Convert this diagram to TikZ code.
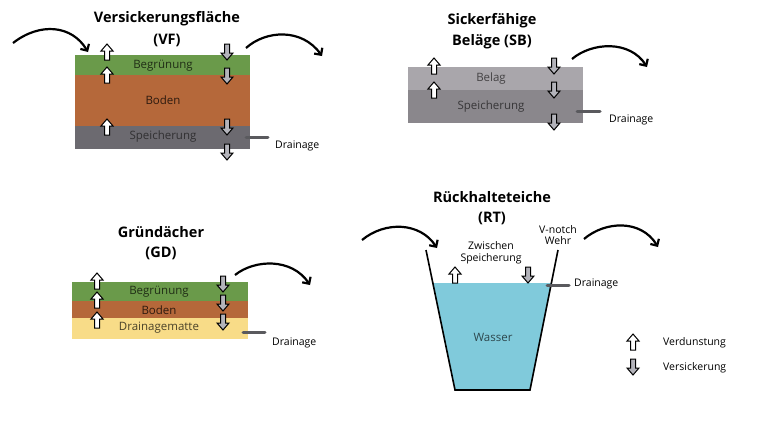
\documentclass[tikz,border=0pt]{standalone}
\usepackage{fontspec}
\setmainfont{Open Sans}
\usetikzlibrary{arrows.meta}
\definecolor{gruen}{HTML}{6A9A4A}
\definecolor{braun}{HTML}{B5683A}
\definecolor{speich}{HTML}{6C6A70}
\definecolor{belag}{HTML}{A9A6AB}
\definecolor{sbspeich}{HTML}{8A878C}
\definecolor{gelb}{HTML}{F8DC88}
\definecolor{wasser}{HTML}{80CADB}
\definecolor{downfill}{HTML}{B3B3BA}
\definecolor{drain}{HTML}{5A5A5E}
\tikzset{
  title/.style={font=\bfseries\fontsize{14.5}{17}\selectfont, align=center, inner sep=0pt},
  layertext/.style={font=\fontsize{11.5}{13}\selectfont, inner sep=0pt},
  lbl/.style={font=\fontsize{10.5}{12.5}\selectfont, inner sep=0pt},
  curvearr/.style={line width=2.2pt, -{Straight Barb[length=5pt,width=10pt,line width=2.2pt]}},
  drainline/.style={line width=3pt, draw=drain, line cap=round},
  uparr/.pic={\draw[line width=1pt, fill=white] (0,-8) -- (6,-1) -- (2.5,-1) -- (2.5,8) -- (-2.5,8) -- (-2.5,-1) -- (-6,-1) -- cycle;},
  downarr/.pic={\draw[line width=1pt, fill=downfill] (0,8) -- (6,1) -- (2.5,1) -- (2.5,-8) -- (-2.5,-8) -- (-2.5,1) -- (-6,1) -- cycle;},
}
\begin{document}
\begin{tikzpicture}[x=1pt,y=-1pt]
\useasboundingbox (0,0) rectangle (760,440);
\fill[white] (0,0) rectangle (760,440);

% ---------- VF ----------
\fill[gruen] (75,55) rectangle (250,75);
\fill[braun] (75,75) rectangle (250,126);
\fill[speich] (75,126) rectangle (250,149);
\node[title] (vft) at (167,19) {Versickerungsfläche};
\node[title] (vfs) at (167,40) {(VF)};
\node[layertext, text=black!70!gruen] (vf1) at (163,66) {Begrünung};
\node[layertext, text=black!75!braun] (vf2) at (163,100) {Boden};
\node[layertext, text=black!55!speich] (vf3) at (163,137) {Speicherung};
\pic at (107,52) {uparr};
\pic at (107,75) {uparr};
\pic at (107,127) {uparr};
\pic at (227,52) {downarr};
\pic at (227,76) {downarr};
\pic at (227,127) {downarr};
\pic at (227,152) {downarr};
\coordinate (vfd1) at (246,137);
\coordinate (vfd2) at (268,137);
\draw[drainline] (vfd1) -- (vfd2);
\node[lbl, anchor=west] (vfdt) at (275,146) {Drainage};
\coordinate (vfa1) at (13,43); \coordinate (vfa2) at (88,52);
\draw[curvearr] (vfa1) .. controls (40,22) and (72,25) .. (vfa2);
\coordinate (vfb1) at (246,48); \coordinate (vfb2) at (322,56);
\draw[curvearr] (vfb1) .. controls (266,30) and (302,28) .. (vfb2);

% ---------- SB ----------
\fill[belag] (408,67) rectangle (583,90);
\fill[sbspeich] (408,90) rectangle (583,123);
\node[title] (sbt) at (492,21) {Sickerfähige};
\node[title] (sbs) at (492,42) {Beläge (SB)};
\node[layertext, text=black!60!belag] (sb1) at (491,79) {Belag};
\node[layertext, text=black!60!sbspeich] (sb2) at (491,107) {Speicherung};
\pic at (434,66) {uparr};
\pic at (434,90) {uparr};
\pic at (554,66) {downarr};
\pic at (554,90) {downarr};
\pic at (554,122) {downarr};
\coordinate (sbd1) at (577,111);
\coordinate (sbd2) at (600,111);
\draw[drainline] (sbd1) -- (sbd2);
\node[lbl, anchor=west] (sbdt) at (609,120) {Drainage};
\coordinate (sba1) at (572,59); \coordinate (sba2) at (647,67);
\draw[curvearr] (sba1) .. controls (592,42) and (630,40) .. (sba2);

% ---------- GD ----------
\fill[gruen] (72,282) rectangle (248,301);
\fill[braun] (72,301) rectangle (248,318);
\fill[gelb] (72,318) rectangle (248,339);
\node[title] (gdt) at (161,232) {Gründächer};
\node[title] (gds) at (161,253) {(GD)};
\node[layertext, text=black!70!gruen] (gd1) at (159,292) {Begrünung};
\node[layertext, text=black!75!braun] (gd2) at (159,310) {Boden};
\node[layertext, text=black!70!gelb] (gd3) at (159,328) {Drainagematte};
\pic at (97,281) {uparr};
\pic at (97,300) {uparr};
\pic at (97,320) {uparr};
\pic at (223,284) {downarr};
\pic at (223,303) {downarr};
\pic at (223,322) {downarr};
\coordinate (gdd1) at (243,332);
\coordinate (gdd2) at (265,332);
\draw[drainline] (gdd1) -- (gdd2);
\node[lbl, anchor=west] (gddt) at (272,343) {Drainage};
\coordinate (gda1) at (235,275); \coordinate (gda2) at (310,285);
\draw[curvearr] (gda1) .. controls (255,259) and (292,258) .. (gda2);

% ---------- RT ----------
\fill[wasser] (432.8,283) -- (455,390) -- (530,390) -- (551.4,283) -- cycle;
\coordinate (rtl) at (426,250);
\coordinate (rtbl) at (455,390);
\coordinate (rtbr) at (530,390);
\coordinate (rtr) at (558,250);
\draw[line width=1.6pt] (rtl) -- (rtbl) -- (rtbr) -- (rtr);
\node[title] (rtt) at (492,197) {Rückhalteteiche};
\node[title] (rts) at (492,218) {(RT)};
\node[lbl, align=center] (rtz) at (491,253) {Zwischen\\[-1pt]Speicherung};
\node[lbl, align=center] (rtv) at (558,235) {V-notch\\[-1pt]Wehr};
\node[layertext, text=black!65!wasser] (rtw) at (493,337) {Wasser};
\pic at (455,275) {uparr};
\pic at (528,275) {downarr};
\coordinate (rtd1) at (547,285);
\coordinate (rtd2) at (569,285);
\draw[drainline] (rtd1) -- (rtd2);
\node[lbl, anchor=west] (rtdt) at (574,284) {Drainage};
\coordinate (rta1) at (362,240); \coordinate (rta2) at (437,248);
\draw[curvearr] (rta1) .. controls (385,221) and (420,222) .. (rta2);
\coordinate (rtb1) at (584,239); \coordinate (rtb2) at (658,247);
\draw[curvearr] (rtb1) .. controls (605,221) and (641,219) .. (rtb2);

% ---------- Legend ----------
\pic at (633,342) {uparr};
\pic at (633,367) {downarr};
\node[lbl, anchor=west] (lg1) at (663,343) {Verdunstung};
\node[lbl, anchor=west] (lg2) at (663,368) {Versickerung};
\end{tikzpicture}
\end{document}
